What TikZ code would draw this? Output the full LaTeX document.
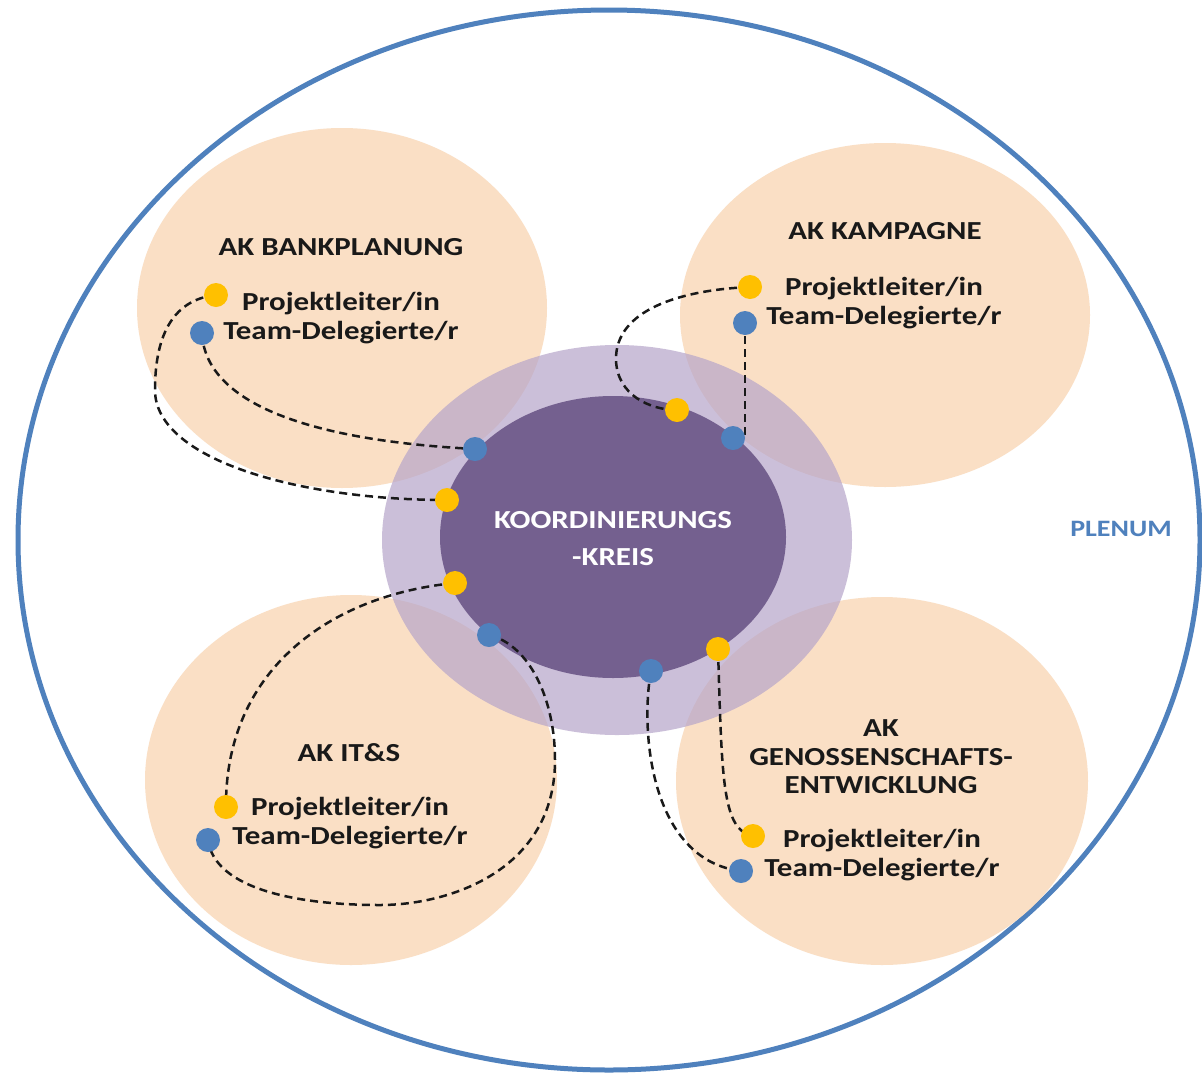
\documentclass[tikz,border=0pt]{standalone}
\usepackage{fontspec}
\setmainfont{Carlito}[FakeStretch=1.19]
\definecolor{plenumblue}{RGB}{79,129,189}
\definecolor{peach}{RGB}{250,223,197}
\definecolor{lavender}{RGB}{182,165,202}
\definecolor{darkpurple}{RGB}{116,96,143}
\definecolor{dotyellow}{RGB}{255,192,0}
\definecolor{dotblue}{RGB}{79,129,189}
\definecolor{textdark}{RGB}{25,25,25}
\tikzset{
  akcircle/.style={fill=peach, draw=none},
  ydot/.style={circle, fill=dotyellow, draw=none, minimum size=24pt, inner sep=0pt},
  bdot/.style={circle, fill=dotblue, draw=none, minimum size=24pt, inner sep=0pt},
  conn/.style={draw=black!90, line width=2.5pt, dash pattern=on 8pt off 5pt},
  aktitle/.style={font=\bfseries\fontsize{26}{28.5}\selectfont, text=textdark, align=center, inner sep=0pt},
  roles/.style={font=\bfseries\fontsize{26}{29.5}\selectfont, text=textdark, align=center, inner sep=0pt},
}
\begin{document}
\begin{tikzpicture}[x=1pt,y=-1pt]
\useasboundingbox (0,0) rectangle (1202,1074);
\fill[white] (0,0) rectangle (1202,1074);
% Plenum
\draw[plenumblue, line width=5pt] (609,540) ellipse [x radius=591, y radius=530];
\node[font=\bfseries\fontsize{23.5}{28}\selectfont, text=plenumblue, inner sep=0pt] (plenum) at (1121,529) {PLENUM};
% AK circles
\fill[akcircle] (342,308) ellipse [x radius=205, y radius=180];
\fill[akcircle] (885,315) ellipse [x radius=205, y radius=172];
\fill[akcircle] (351,780) ellipse [x radius=206, y radius=185];
\fill[akcircle] (882,781) ellipse [x radius=206, y radius=184];
% Koordinierungskreis
\fill[lavender, fill opacity=0.7] (617,540) ellipse [x radius=235, y radius=195];
\fill[darkpurple] (613,537) ellipse [x radius=173, y radius=141];
\node[font=\bfseries\fontsize{26}{37}\selectfont, text=white, align=center, inner sep=0pt] (kk) at (613,539) {KOORDINIERUNGS\\-KREIS};
% texts
\node[aktitle] (t1) at (341,247) {AK BANKPLANUNG};
\node[roles] (r1) at (341,318) {Projektleiter/in\\Team-Delegierte/r};
\node[aktitle] (t2) at (885,231) {AK KAMPAGNE};
\node[roles] (r2) at (884,303) {Projektleiter/in\\Team-Delegierte/r};
\node[aktitle] (t3) at (349,753) {AK IT\&S};
\node[roles] (r3) at (350,823) {Projektleiter/in\\Team-Delegierte/r};
\node[aktitle] (t4) at (881,757) {AK\\GENOSSENSCHAFTS-\\ENTWICKLUNG};
\node[roles] (r4) at (882,855) {Projektleiter/in\\Team-Delegierte/r};
% dot coordinates
\coordinate (p1y) at (216,295); \coordinate (p1b) at (202,333);
\coordinate (c1b) at (475,449); \coordinate (c1y) at (447,500);
\coordinate (p2y) at (750,287); \coordinate (p2b) at (745,323);
\coordinate (c2y) at (677,410); \coordinate (c2b) at (733,438);
\coordinate (c3y) at (455,583); \coordinate (c3b) at (489,635);
\coordinate (p3y) at (226,807); \coordinate (p3b) at (208,840);
\coordinate (c4b) at (651,671); \coordinate (c4y) at (718,649);
\coordinate (p4y) at (753,836); \coordinate (p4b) at (741,871);
% connectors
\draw[conn] (p1y) .. controls (170,300) and (155,340) .. (155,390) .. controls (155,460) and (300,500) .. (c1y);
\draw[conn] (p1b) .. controls (205,400) and (300,440) .. (c1b);
\draw[conn] (p2y) .. controls (680,290) and (615,310) .. (616,360) .. controls (617,395) and (650,410) .. (c2y);
\draw[conn] (p2b) -- (p2b |- c2b) -- (c2b);
\draw[conn] (c3y) .. controls (330,595) and (225,670) .. (p3y);
\draw[conn] (c3b) .. controls (530,645) and (555,700) .. (555,760) .. controls (555,870) and (450,905) .. (380,905) .. controls (300,905) and (215,890) .. (p3b);
\draw[conn] (c4b) .. controls (640,730) and (650,860) .. (p4b);
\draw[conn] (c4y) .. controls (722,780) and (722,830) .. (p4y);
% dots
\node[ydot] (d1y) at (p1y) {}; \node[bdot] (d1b) at (p1b) {};
\node[bdot] (dc1b) at (c1b) {}; \node[ydot] (dc1y) at (c1y) {};
\node[ydot] (d2y) at (p2y) {}; \node[bdot] (d2b) at (p2b) {};
\node[ydot] (dc2y) at (c2y) {}; \node[bdot] (dc2b) at (c2b) {};
\node[ydot] (dc3y) at (c3y) {}; \node[bdot] (dc3b) at (c3b) {};
\node[ydot] (d3y) at (p3y) {}; \node[bdot] (d3b) at (p3b) {};
\node[bdot] (dc4b) at (c4b) {}; \node[ydot] (dc4y) at (c4y) {};
\node[ydot] (d4y) at (p4y) {}; \node[bdot] (d4b) at (p4b) {};
\end{tikzpicture}
\end{document}
